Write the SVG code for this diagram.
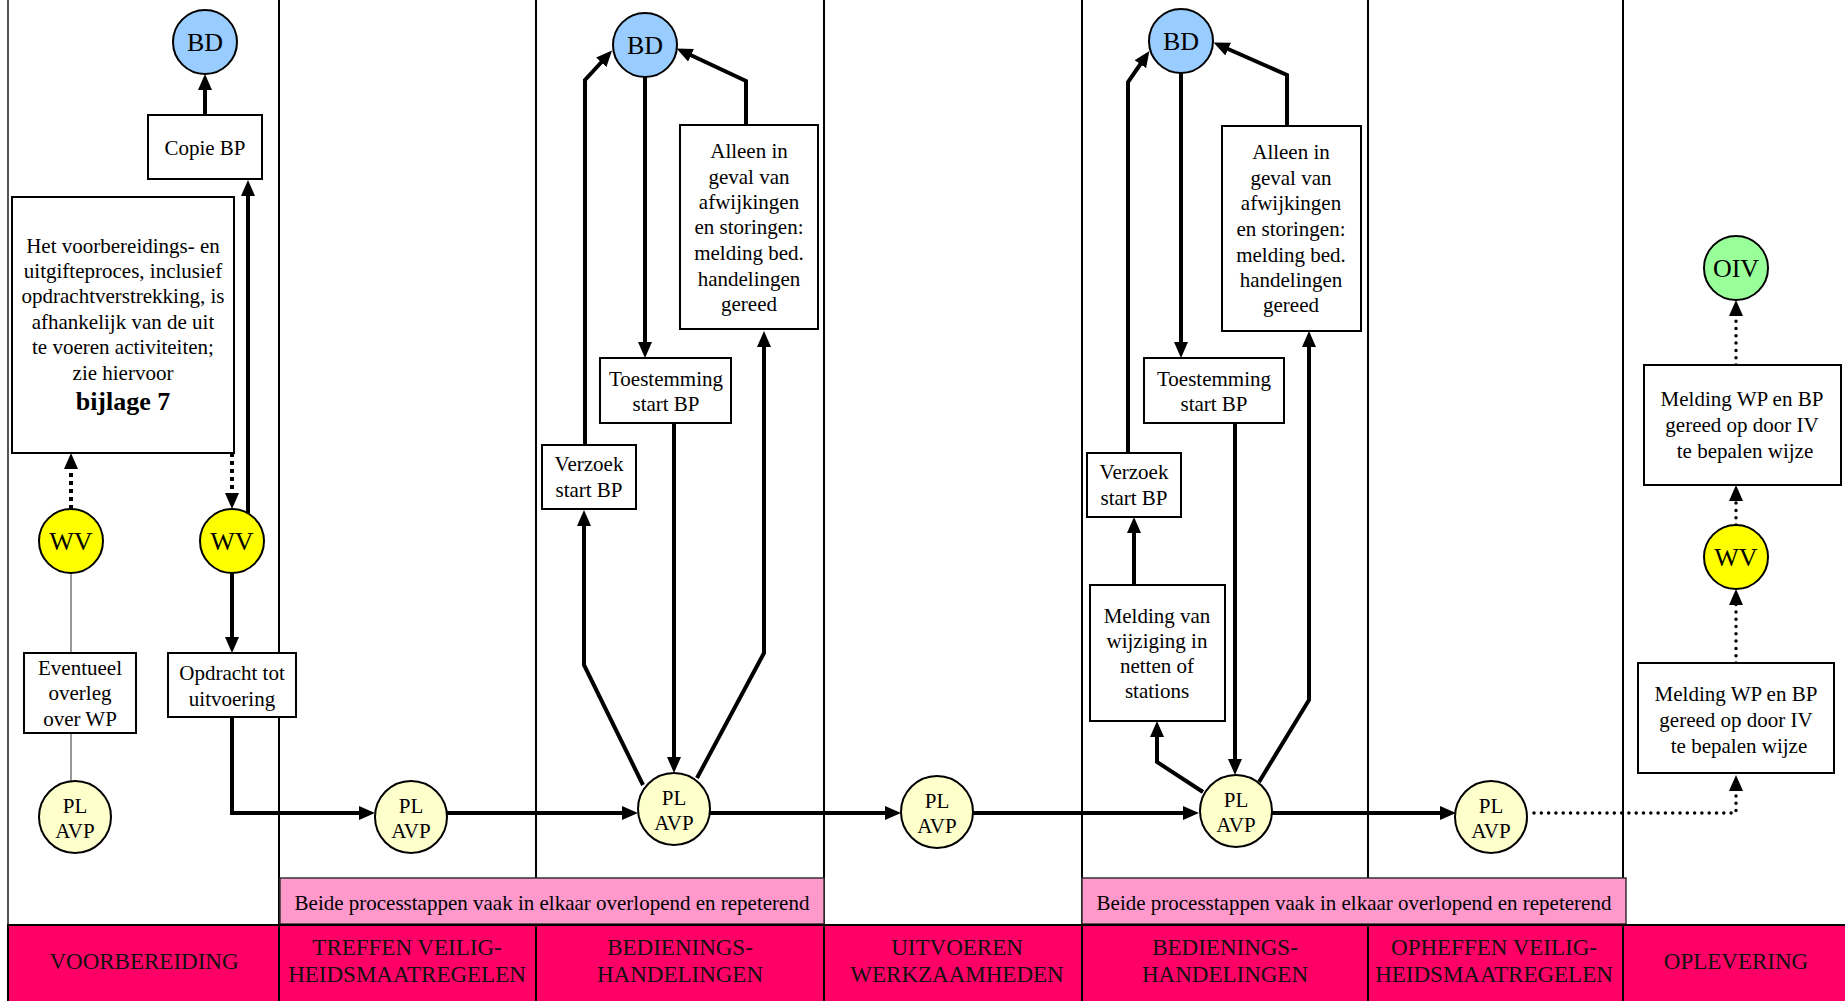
<svg xmlns="http://www.w3.org/2000/svg" width="1845" height="1001" viewBox="0 0 1845 1001">
<style>
.lane{stroke:#000;stroke-width:2}
.box{fill:#fff;stroke:#000;stroke-width:2}
.t{font-family:"Liberation Serif","Times New Roman",serif;font-size:21px;fill:#000;text-anchor:middle}
.c{font-size:26px}
.big{font-size:26px;font-weight:bold}
.bl{font-size:23px;fill:#111}
.bd{fill:#99CCFF;stroke:#000;stroke-width:2}
.wv{fill:#FFFF00;stroke:#000;stroke-width:2}
.pl{fill:#FFFFCC;stroke:#000;stroke-width:2}
.oiv{fill:#99FF99;stroke:#000;stroke-width:2}
.flow{fill:none;stroke:#000;stroke-width:4;marker-end:url(#ah)}
.dash{fill:none;stroke:#000;stroke-width:4;stroke-dasharray:4 4;marker-end:url(#ah)}
.dot{fill:none;stroke:#000;stroke-width:3.5;stroke-linecap:round;stroke-dasharray:0 7.3;marker-end:url(#ah)}
.thin{fill:none;stroke:#777;stroke-width:1.5}
</style>
<defs>
<marker id="ah" viewBox="0 0 16 14" refX="10" refY="7" markerWidth="16" markerHeight="14" markerUnits="userSpaceOnUse" orient="auto">
<path d="M0,0 L16,7 L0,14 z" fill="#000"/>
</marker>
</defs>
<rect width="1845" height="1001" fill="#fff"/>

<g id="lanes">
<line x1="8" y1="0" x2="8" y2="1001" stroke="#555" stroke-width="2"/>
<line class="lane" x1="279" y1="0" x2="279" y2="1001"/>
<line class="lane" x1="536" y1="0" x2="536" y2="878"/>
<line class="lane" x1="824" y1="0" x2="824" y2="1001"/>
<line class="lane" x1="1082" y1="0" x2="1082" y2="1001"/>
<line class="lane" x1="1368" y1="0" x2="1368" y2="878"/>
<line class="lane" x1="1623" y1="0" x2="1623" y2="1001"/>
</g>

<g id="banners">
<rect x="280" y="878" width="544" height="46" fill="#FF99CC" stroke="#333" stroke-width="1.5"/>
<text class="t" x="552" y="910">Beide processtappen vaak in elkaar overlopend en repeterend</text>
<rect x="1082" y="878" width="544" height="46" fill="#FF99CC" stroke="#333" stroke-width="1.5"/>
<text class="t" x="1354" y="910">Beide processtappen vaak in elkaar overlopend en repeterend</text>
</g>

<g id="band">
<rect x="8" y="925" width="1845" height="80" fill="#FF0066" stroke="#000" stroke-width="2"/>
<line class="lane" x1="279" y1="925" x2="279" y2="1001"/>
<line class="lane" x1="536" y1="925" x2="536" y2="1001"/>
<line class="lane" x1="824" y1="925" x2="824" y2="1001"/>
<line class="lane" x1="1082" y1="925" x2="1082" y2="1001"/>
<line class="lane" x1="1368" y1="925" x2="1368" y2="1001"/>
<line class="lane" x1="1623" y1="925" x2="1623" y2="1001"/>
<text class="t bl" x="144" y="969">VOORBEREIDING</text>
<text class="t bl" x="407" y="955">TREFFEN VEILIG-</text>
<text class="t bl" x="407" y="982">HEIDSMAATREGELEN</text>
<text class="t bl" x="680" y="955">BEDIENINGS-</text>
<text class="t bl" x="680" y="982">HANDELINGEN</text>
<text class="t bl" x="957" y="955">UITVOEREN</text>
<text class="t bl" x="957" y="982">WERKZAAMHEDEN</text>
<text class="t bl" x="1225" y="955">BEDIENINGS-</text>
<text class="t bl" x="1225" y="982">HANDELINGEN</text>
<text class="t bl" x="1494" y="955">OPHEFFEN VEILIG-</text>
<text class="t bl" x="1494" y="982">HEIDSMAATREGELEN</text>
<text class="t bl" x="1736" y="969">OPLEVERING</text>
</g>

<g id="connectors">
<path class="flow" d="M205,115 L205,80"/>
<path class="flow" d="M248,513 L248,186"/>
<path class="dash" d="M71,509 L71,459"/>
<path class="dash" d="M232,453 L232,503"/>
<path class="flow" d="M232,573 L232,647"/>
<path class="thin" d="M71,573 L71,653 M71,733 L71,781"/>
<path class="flow" d="M232,717 L232,813 L369,813"/>
<path class="flow" d="M447,813 L632,813"/>
<path class="flow" d="M643,785 L584,665 L584,516"/>
<path class="flow" d="M585,445 L585,80 L608,55"/>
<path class="flow" d="M645,77 L645,352"/>
<path class="flow" d="M674,423 L674,767"/>
<path class="flow" d="M697,778 L764,653 L764,337"/>
<path class="flow" d="M746,125 L746,81 L682,51"/>
<path class="flow" d="M710,813 L895,813"/>
<path class="flow" d="M973,813 L1193,813"/>
<path class="flow" d="M1203,792 L1157,762 L1157,727"/>
<path class="flow" d="M1134,585 L1134,523"/>
<path class="flow" d="M1128,453 L1128,82 L1146,56"/>
<path class="flow" d="M1181,73 L1181,352"/>
<path class="flow" d="M1235,423 L1235,769"/>
<path class="flow" d="M1259,782 L1309,700 L1309,337"/>
<path class="flow" d="M1287,126 L1287,75 L1219,45"/>
<path class="flow" d="M1272,813 L1450,813"/>
<path class="dot" d="M1534,813 L1736,813 L1736,781"/>
<path class="dot" d="M1736,663 L1736,595"/>
<path class="dot" d="M1736,525 L1736,491"/>
<path class="dot" d="M1736,365 L1736,306"/>
</g>

<g id="bd1"><circle class="bd" cx="205" cy="42" r="32"/><text class="t c" x="205" y="51">BD</text></g>
<g id="copie-bp"><rect class="box" x="148" y="115" width="114" height="64"/><text class="t" x="205" y="155">Copie BP</text></g>
<g id="voorbereiding-note"><rect class="box" x="12" y="197" width="222" height="256"/>
<text class="t" x="123" y="253">Het voorbereidings- en</text>
<text class="t" x="123" y="278">uitgifteproces, inclusief</text>
<text class="t" x="123" y="303">opdrachtverstrekking, is</text>
<text class="t" x="123" y="329">afhankelijk van de uit</text>
<text class="t" x="123" y="354">te voeren activiteiten;</text>
<text class="t" x="123" y="380">zie hiervoor</text>
<text class="t big" x="123" y="410">bijlage 7</text>
</g>
<g id="wv1"><circle class="wv" cx="71" cy="541" r="32"/><text class="t c" x="71" y="550">WV</text></g>
<g id="wv2"><circle class="wv" cx="232" cy="541" r="32"/><text class="t c" x="232" y="550">WV</text></g>
<g id="eventueel"><rect class="box" x="24" y="653" width="112" height="80"/>
<text class="t" x="80" y="675">Eventueel</text><text class="t" x="80" y="700">overleg</text><text class="t" x="80" y="726">over WP</text></g>
<g id="opdracht"><rect class="box" x="168" y="653" width="128" height="64"/>
<text class="t" x="232" y="680">Opdracht tot</text><text class="t" x="232" y="706">uitvoering</text></g>
<g id="plavp1"><circle class="pl" cx="75" cy="817" r="36"/><text class="t" x="75" y="813">PL</text><text class="t" x="75" y="838">AVP</text></g>
<g id="plavp2"><circle class="pl" cx="411" cy="817" r="36"/><text class="t" x="411" y="813">PL</text><text class="t" x="411" y="838">AVP</text></g>

<g id="bd2"><circle class="bd" cx="645" cy="45" r="32"/><text class="t c" x="645" y="54">BD</text></g>
<g id="alleen1"><rect class="box" x="680" y="125" width="138" height="204"/>
<text class="t" x="749" y="158">Alleen in</text>
<text class="t" x="749" y="184">geval van</text>
<text class="t" x="749" y="209">afwijkingen</text>
<text class="t" x="749" y="234">en storingen:</text>
<text class="t" x="749" y="260">melding bed.</text>
<text class="t" x="749" y="286">handelingen</text>
<text class="t" x="749" y="311">gereed</text></g>
<g id="toestemming1"><rect class="box" x="600" y="358" width="131" height="65"/>
<text class="t" x="666" y="386">Toestemming</text><text class="t" x="666" y="411">start BP</text></g>
<g id="verzoek1"><rect class="box" x="542" y="445" width="94" height="64"/>
<text class="t" x="589" y="471">Verzoek</text><text class="t" x="589" y="497">start BP</text></g>
<g id="plavp3"><circle class="pl" cx="674" cy="809" r="36"/><text class="t" x="674" y="805">PL</text><text class="t" x="674" y="830">AVP</text></g>
<g id="plavp4"><circle class="pl" cx="937" cy="812" r="36"/><text class="t" x="937" y="808">PL</text><text class="t" x="937" y="833">AVP</text></g>

<g id="bd3"><circle class="bd" cx="1181" cy="41" r="32"/><text class="t c" x="1181" y="50">BD</text></g>
<g id="alleen2"><rect class="box" x="1222" y="126" width="139" height="205"/>
<text class="t" x="1291" y="159">Alleen in</text>
<text class="t" x="1291" y="185">geval van</text>
<text class="t" x="1291" y="210">afwijkingen</text>
<text class="t" x="1291" y="236">en storingen:</text>
<text class="t" x="1291" y="262">melding bed.</text>
<text class="t" x="1291" y="287">handelingen</text>
<text class="t" x="1291" y="312">gereed</text></g>
<g id="toestemming2"><rect class="box" x="1144" y="358" width="140" height="65"/>
<text class="t" x="1214" y="386">Toestemming</text><text class="t" x="1214" y="411">start BP</text></g>
<g id="verzoek2"><rect class="box" x="1087" y="453" width="94" height="64"/>
<text class="t" x="1134" y="479">Verzoek</text><text class="t" x="1134" y="505">start BP</text></g>
<g id="melding-wijziging"><rect class="box" x="1090" y="585" width="135" height="136"/>
<text class="t" x="1157" y="623">Melding van</text>
<text class="t" x="1157" y="648">wijziging in</text>
<text class="t" x="1157" y="673">netten of</text>
<text class="t" x="1157" y="698">stations</text></g>
<g id="plavp5"><circle class="pl" cx="1236" cy="811" r="36"/><text class="t" x="1236" y="807">PL</text><text class="t" x="1236" y="832">AVP</text></g>
<g id="plavp6"><circle class="pl" cx="1491" cy="817" r="36"/><text class="t" x="1491" y="813">PL</text><text class="t" x="1491" y="838">AVP</text></g>

<g id="oiv"><circle class="oiv" cx="1736" cy="268" r="32"/><text class="t c" x="1736" y="277">OIV</text></g>
<g id="melding-wp1"><rect class="box" x="1644" y="365" width="197" height="120"/>
<text class="t" x="1742" y="406">Melding WP en BP</text>
<text class="t" x="1742" y="432">gereed op door IV</text>
<text class="t" x="1745" y="458">te bepalen wijze</text></g>
<g id="wv3"><circle class="wv" cx="1736" cy="557" r="32"/><text class="t c" x="1736" y="566">WV</text></g>
<g id="melding-wp2"><rect class="box" x="1638" y="663" width="196" height="110"/>
<text class="t" x="1736" y="701">Melding WP en BP</text>
<text class="t" x="1736" y="727">gereed op door IV</text>
<text class="t" x="1739" y="753">te bepalen wijze</text></g>
</svg>
